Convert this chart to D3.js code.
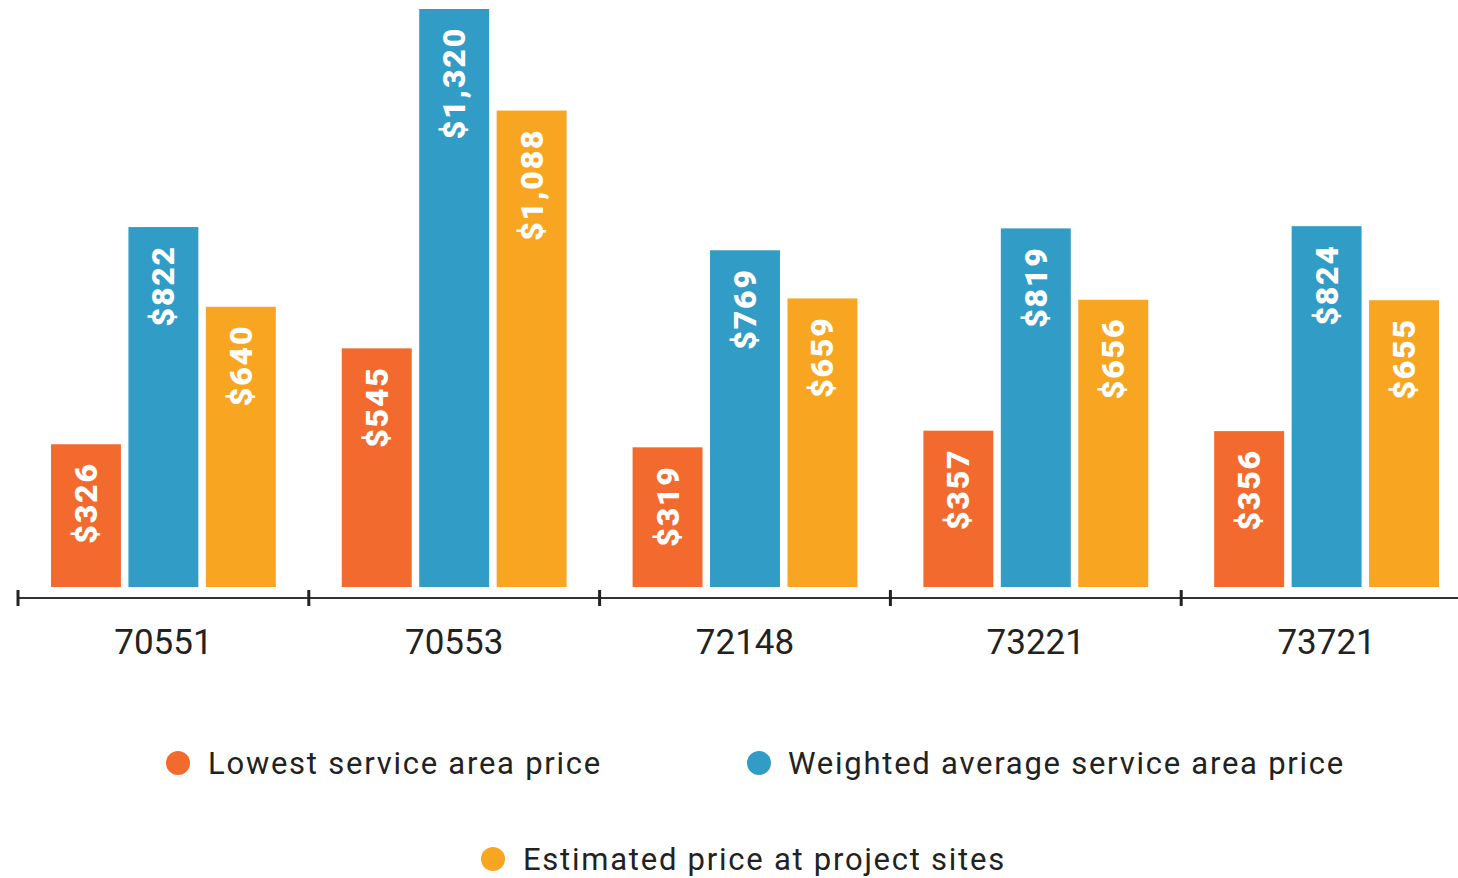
<!DOCTYPE html>
<html><head><meta charset="utf-8">
<script src="https://cdn.jsdelivr.net/npm/d3@7"></script>
<style>html,body{margin:0;padding:0;background:#fff;}svg{display:block;}</style>
</head><body>
<svg id="chart" width="1458" height="878"></svg>
<script>
const categories = ["70551", "70553", "72148", "73221", "73721"];
const seriesNames = ["Lowest service area price", "Weighted average service area price", "Estimated price at project sites"];
const lowest = [326, 545, 319, 357, 356];
const weighted = [822, 1320, 769, 819, 824];
const estimated = [640, 1088, 659, 656, 655];
const colors = ["#F26A2E", "#319DC6", "#F8A621"];

const seriesValues = [lowest, weighted, estimated];
const svg = d3.select("#chart");
const font = "Roboto, 'Liberation Sans', Arial, sans-serif";

const x = d3.scaleBand().domain(categories).range([18, 18 + 5 * 290.8]).padding(0);
const xs = d3.scaleBand().domain(d3.range(3)).range([0, x.bandwidth()]).paddingInner(0.0968).paddingOuter(0.426);
const y = d3.scaleLinear().domain([0, 1320]).range([587, 9]);

const fmt = v => "$" + d3.format(",")(v);

const groups = svg.append("g").selectAll("g").data(categories).join("g")
  .attr("transform", d => `translate(${x(d)},0)`);

groups.each(function(cat, ci) {
  const g = d3.select(this);
  const data = seriesValues.map((arr, si) => ({si, v: arr[ci]}));
  g.selectAll("rect").data(data).join("rect")
    .attr("x", d => xs(d.si))
    .attr("width", xs.bandwidth())
    .attr("y", d => y(d.v))
    .attr("height", d => y(0) - y(d.v))
    .attr("fill", d => colors[d.si]);
  g.selectAll("text.val").data(data).join("text")
    .attr("class", "val")
    .attr("transform", d => `translate(${xs(d.si) + xs.bandwidth() / 2},${y(d.v) + 18}) rotate(-90)`)
    .attr("text-anchor", "end")
    .attr("dominant-baseline", "central")
    .attr("fill", "#fff")
    .attr("font-family", font)
    .attr("font-weight", "900")
    .attr("font-size", 32)
    .attr("letter-spacing", 1.8)
    .text(d => fmt(d.v));
});

// axis
const axisY = 598;
svg.append("line").attr("x1", 18).attr("x2", 1458).attr("y1", axisY).attr("y2", axisY)
  .attr("stroke", "#333").attr("stroke-width", 2);
svg.append("g").selectAll("line").data(categories).join("line")
  .attr("x1", d => x(d)).attr("x2", d => x(d))
  .attr("y1", axisY - 8).attr("y2", axisY + 8)
  .attr("stroke", "#222").attr("stroke-width", 3);
svg.append("g").selectAll("text").data(categories).join("text")
  .attr("x", d => x(d) + x.bandwidth() / 2)
  .attr("y", 654)
  .attr("text-anchor", "middle")
  .attr("font-family", font)
  .attr("font-size", 35)
  .attr("fill", "#222")
  .text(d => d);

// legend
const legendPos = [{cx: 178, cy: 763, tx: 208}, {cx: 759, cy: 763, tx: 788}, {cx: 493, cy: 859, tx: 523}];
const leg = svg.append("g").selectAll("g").data(seriesNames).join("g");
leg.append("circle")
  .attr("cx", (d, i) => legendPos[i].cx).attr("cy", (d, i) => legendPos[i].cy)
  .attr("r", 12).attr("fill", (d, i) => colors[i]);
leg.append("text")
  .attr("x", (d, i) => legendPos[i].tx).attr("y", (d, i) => legendPos[i].cy)
  .attr("dominant-baseline", "central")
  .attr("font-family", font).attr("font-size", 31).attr("fill", "#222")
  .attr("letter-spacing", 1.75)
  .text(d => d);
</script>
</body></html>
